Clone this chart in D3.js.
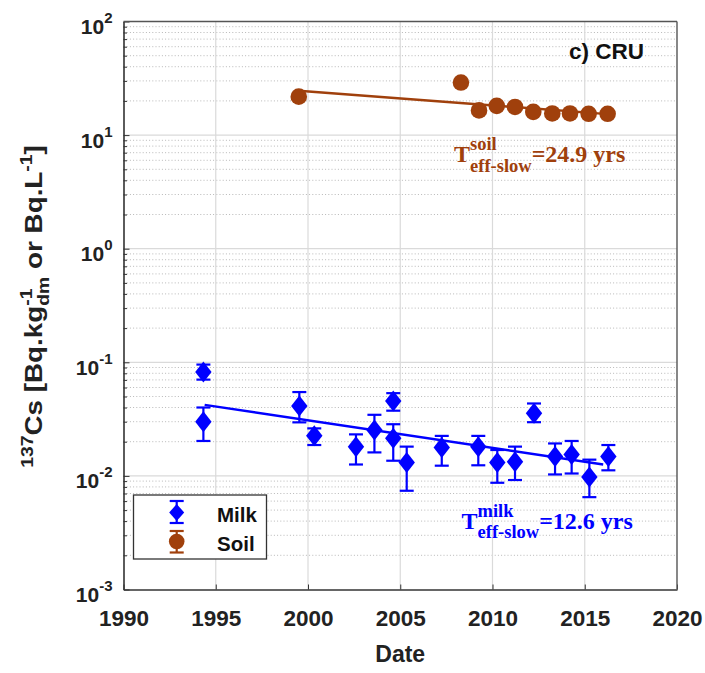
<!DOCTYPE html>
<html>
<head>
<meta charset="utf-8">
<script src="https://cdn.jsdelivr.net/npm/d3@7"></script>
<style>
  html, body { margin: 0; padding: 0; background: #fff; }
  svg { display: block; }
  text { font-family: "Liberation Sans", Arial, sans-serif; }
  text.serif { font-family: "Liberation Serif", "Times New Roman", serif; }
</style>
</head>
<body>
<svg id="chart" width="705" height="673"></svg>
<script>
// ---------------- data ----------------
const milkYears = [1994.33, 1994.33, 1999.53, 2000.34, 2002.6, 2003.6, 2004.62, 2004.62, 2005.35, 2007.25,
                   2009.23, 2010.26, 2011.22, 2012.25, 2013.39, 2014.29, 2015.25, 2016.28];
const milkValues = [0.082, 0.030, 0.0413, 0.0226, 0.0181, 0.0253, 0.0457, 0.0214, 0.0131, 0.0178,
                    0.0181, 0.0131, 0.0133, 0.0356, 0.0148, 0.0154, 0.0098, 0.0148];
const milkLow = [0.0704, 0.0203, 0.0296, 0.0187, 0.0126, 0.0161, 0.0375, 0.0136, 0.0074, 0.0123,
                 0.0124, 0.0087, 0.0092, 0.0297, 0.0103, 0.0105, 0.0065, 0.0112];
const milkHigh = [0.0955, 0.040, 0.0547, 0.0262, 0.0232, 0.0345, 0.0535, 0.0285, 0.0181, 0.0225,
                  0.0225, 0.0169, 0.0181, 0.0434, 0.0193, 0.0203, 0.0139, 0.0187];

const soilYears = [1999.5, 2008.29, 2009.27, 2010.23, 2011.22, 2012.21, 2013.24, 2014.2, 2015.21, 2016.24];
const soilValues = [21.8, 29.0, 16.5, 18.1, 17.7, 16.0, 15.5, 15.5, 15.4, 15.4];

const milkFitYears = [1994.4, 2016.0];
const milkFitValues = [0.0422, 0.0126];
const soilFitYears = [1999.5, 2016.24];
const soilFitValues = [24.6, 15.3];

const xTicks = [1990, 1995, 2000, 2005, 2010, 2015, 2020];
const yTickExps = [-3, -2, -1, 0, 1, 2];
const seriesNames = ["Milk", "Soil"];
const panelLabel = "c) CRU";
const milkAnn = {sup: "milk", sub: "eff-slow", rest: "=12.6 yrs"};
const soilAnn = {sup: "soil", sub: "eff-slow", rest: "=24.9 yrs"};

// ---------------- setup ----------------
const BLUE = "#0000ff";
const BROWN = "#a0400c";
const AX = "#333333";
const svg = d3.select("#chart");
const L = 123.5, R = 677, T = 21.5, B = 589.5;
const x = d3.scaleLinear().domain([1990, 2020]).range([L, R]);
const y = d3.scaleLog().domain([1e-3, 1e2]).range([B, T]);

// grid
const grid = svg.append("g");
const minorVals = [];
for (let e = -3; e < 2; e++) for (let k = 2; k <= 9; k++) minorVals.push(k * Math.pow(10, e));
grid.selectAll("line.minor").data(minorVals).enter().append("line")
  .attr("x1", L).attr("x2", R).attr("y1", d => y(d)).attr("y2", d => y(d))
  .attr("stroke", "#b8b8b8").attr("stroke-width", 1).attr("stroke-dasharray", "1,2.2");
grid.selectAll("line.majh").data(yTickExps.slice(1, -1).map(e => Math.pow(10, e))).enter().append("line")
  .attr("x1", L).attr("x2", R).attr("y1", d => y(d)).attr("y2", d => y(d))
  .attr("stroke", "#dadada").attr("stroke-width", 1.2);
grid.selectAll("line.majv").data(xTicks.slice(1, -1)).enter().append("line")
  .attr("x1", d => x(d)).attr("x2", d => x(d)).attr("y1", T).attr("y2", B)
  .attr("stroke", "#dadada").attr("stroke-width", 1.2);

// axes
const xAxis = svg.append("g").attr("transform", `translate(0,${B})`)
  .call(d3.axisBottom(x).tickValues(xTicks).tickSizeInner(-5).tickSizeOuter(0).tickPadding(14).tickFormat(d3.format("d")));
xAxis.select(".domain").attr("stroke", AX).attr("stroke-width", 1.6);
xAxis.selectAll(".tick line").attr("stroke", AX);
xAxis.selectAll("text").attr("font-size", 22.5).attr("font-weight", "bold").attr("fill", "#222")
  .attr("dy", null).attr("y", 36.2);

const yAxis = svg.append("g").attr("transform", `translate(${L},0)`)
  .call(d3.axisLeft(y).tickValues(yTickExps.map(e => Math.pow(10, e))).tickSizeInner(-6).tickSizeOuter(0).tickFormat(""));
yAxis.select(".domain").attr("stroke", AX).attr("stroke-width", 1.6);
yAxis.selectAll(".tick line").attr("stroke", AX);
yAxis.selectAll(".tick").each(function(d) {
  const t = d3.select(this).append("text").attr("x", -11).attr("y", 12).attr("text-anchor", "end")
    .attr("font-weight", "bold").attr("fill", "#222");
  t.append("tspan").attr("font-size", 21).text("10");
  t.append("tspan").attr("font-size", 15).attr("dy", -11).text(Math.round(Math.log10(d)));
});
// minor ticks on y axis
const yMinor = svg.append("g").attr("transform", `translate(${L},0)`)
  .call(d3.axisLeft(y).tickValues(minorVals).tickSizeInner(-3.5).tickSizeOuter(0).tickFormat(""));
yMinor.select(".domain").remove();
yMinor.selectAll(".tick line").attr("stroke", AX);

// box top/right
svg.append("line").attr("x1", L).attr("x2", R).attr("y1", T).attr("y2", T).attr("stroke", "#555").attr("stroke-width", 1.4);
svg.append("line").attr("x1", R).attr("x2", R).attr("y1", T).attr("y2", B).attr("stroke", "#555").attr("stroke-width", 1.4);

// fit lines
const line = d3.line().x(d => x(d[0])).y(d => y(d[1]));
svg.append("path").datum(milkFitYears.map((d, i) => [d, milkFitValues[i]]))
  .attr("d", line).attr("stroke", BLUE).attr("stroke-width", 2.4).attr("fill", "none");
svg.append("path").datum(soilFitYears.map((d, i) => [d, soilFitValues[i]]))
  .attr("d", line).attr("stroke", BROWN).attr("stroke-width", 2.4).attr("fill", "none");

// error bars + markers
const CAP = 7, DW = 8.2, DH = 10.5;
function diamond(cx, cy) { return `M${cx},${cy - DH}L${cx + DW},${cy}L${cx},${cy + DH}L${cx - DW},${cy}Z`; }
const milkData = milkYears.map((d, i) => ({x: d, v: milkValues[i], lo: milkLow[i], hi: milkHigh[i]}));
const eb = svg.append("g").attr("stroke", BLUE).attr("stroke-width", 2.2).attr("fill", "none");
milkData.forEach(p => {
  const cx = x(p.x);
  eb.append("line").attr("x1", cx).attr("x2", cx).attr("y1", y(p.lo)).attr("y2", y(p.hi));
  eb.append("line").attr("x1", cx - CAP).attr("x2", cx + CAP).attr("y1", y(p.lo)).attr("y2", y(p.lo));
  eb.append("line").attr("x1", cx - CAP).attr("x2", cx + CAP).attr("y1", y(p.hi)).attr("y2", y(p.hi));
});
svg.append("g").selectAll("path").data(milkData).enter().append("path")
  .attr("d", p => diamond(x(p.x), y(p.v))).attr("fill", BLUE);

svg.append("g").selectAll("circle").data(soilYears.map((d, i) => ({x: d, v: soilValues[i]}))).enter()
  .append("circle").attr("cx", p => x(p.x)).attr("cy", p => y(p.v)).attr("r", 8.3).attr("fill", BROWN);

// annotations
function annotate(a, x0, y0, color) {
  const t = svg.append("text").attr("class", "serif").attr("x", x0).attr("y", y0).attr("fill", color)
    .attr("font-weight", "bold");
  t.append("tspan").attr("font-size", 24).text("T");
  const sup = t.append("tspan").attr("font-size", 18.5).attr("dy", -12).text(a.sup);
  const w = sup.node().getComputedTextLength();
  t.append("tspan").attr("font-size", 18.5).attr("dx", -w).attr("dy", 21.5).text(a.sub);
  t.append("tspan").attr("font-size", 24).attr("dy", -9.5).text(a.rest);
}
annotate(soilAnn, 454, 162, BROWN);
annotate(milkAnn, 461.5, 528.5, BLUE);

svg.append("text").attr("x", 569).attr("y", 58.5).attr("font-size", 22.5).attr("font-weight", "bold")
  .attr("fill", "#111").text(panelLabel);

// legend
const lg = svg.append("g");
lg.append("rect").attr("x", 133.5).attr("y", 495).attr("width", 133).attr("height", 64)
  .attr("fill", "#fff").attr("stroke", "#333").attr("stroke-width", 1.3);
const lx = 176.7;
const legendRows = [{name: seriesNames[0], cy: 512.5, color: BLUE, top: 501, bot: 523},
                    {name: seriesNames[1], cy: 541.5, color: BROWN, top: 531, bot: 552.5}];
legendRows.forEach((r, i) => {
  const g = lg.append("g").attr("stroke", r.color).attr("stroke-width", 2.2);
  g.append("line").attr("x1", lx).attr("x2", lx).attr("y1", r.top).attr("y2", r.bot);
  g.append("line").attr("x1", lx - CAP).attr("x2", lx + CAP).attr("y1", r.top).attr("y2", r.top);
  g.append("line").attr("x1", lx - CAP).attr("x2", lx + CAP).attr("y1", r.bot).attr("y2", r.bot);
  if (i === 0) lg.append("path").attr("d", `M${lx},${r.cy - 8.5}L${lx + 7.5},${r.cy}L${lx},${r.cy + 8.5}L${lx - 7.5},${r.cy}Z`).attr("fill", r.color);
  else lg.append("circle").attr("cx", lx).attr("cy", r.cy).attr("r", 7.8).attr("fill", r.color);
  lg.append("text").attr("x", 217).attr("y", r.cy + 9.5).attr("font-size", 20.5).attr("font-weight", "bold")
    .attr("fill", "#111").text(r.name);
});

// axis titles
svg.append("text").attr("x", (L + R) / 2).attr("y", 662).attr("text-anchor", "middle")
  .attr("font-size", 23).attr("font-weight", "bold").attr("fill", "#222").text("Date");

const yl = svg.append("text").attr("text-anchor", "middle").attr("font-weight", "bold").attr("fill", "#222")
  .attr("transform", "translate(41.7,306.5) rotate(-90) scale(1.21,1)");
yl.append("tspan").attr("font-size", 16).attr("dy", -9).text("137");
yl.append("tspan").attr("font-size", 23).attr("dy", 9).text("Cs [Bq.kg");
const s1 = yl.append("tspan").attr("font-size", 16).attr("dy", -10).text("-1");
const w1 = s1.node().getComputedTextLength();
yl.append("tspan").attr("font-size", 16).attr("dx", -w1).attr("dy", 17).text("dm");
yl.append("tspan").attr("font-size", 23).attr("dy", -7).text(" or Bq.L");
yl.append("tspan").attr("font-size", 16).attr("dy", -10).text("-1");
yl.append("tspan").attr("font-size", 23).attr("dy", 10).text("]");
</script>
</body>
</html>
